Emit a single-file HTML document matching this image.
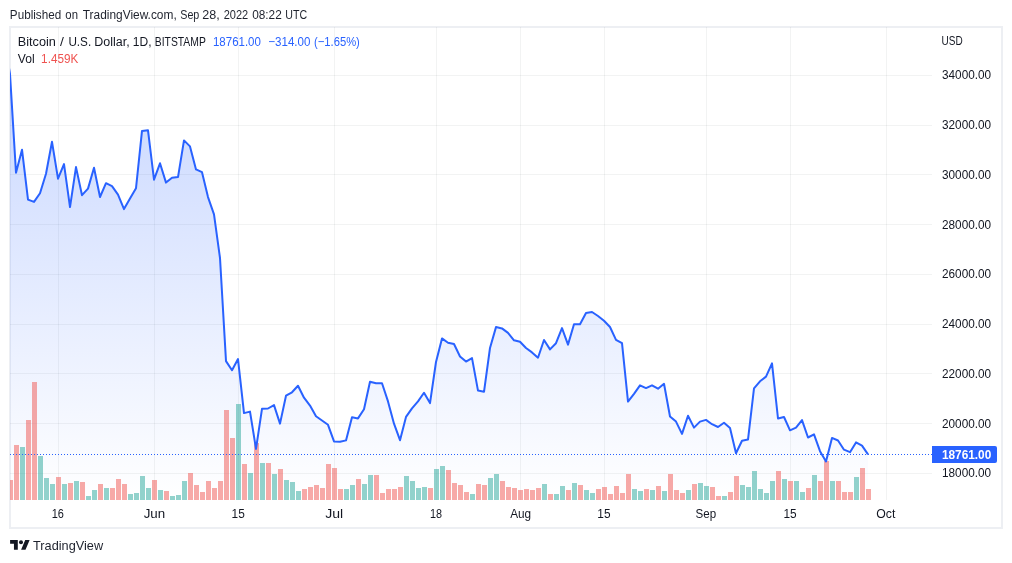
<!DOCTYPE html><html><head><meta charset="utf-8"><title>BTCUSD chart</title><style>html,body{margin:0;padding:0;background:#fff;width:1012px;height:563px;overflow:hidden}svg{will-change:transform}</style></head><body><svg width="1012" height="563" viewBox="0 0 1012 563" style="display:block">
<defs>
<linearGradient id="g" x1="0" y1="28" x2="0" y2="500" gradientUnits="userSpaceOnUse"><stop offset="0" stop-color="#2962ff" stop-opacity="0.28"/><stop offset="1" stop-color="#2962ff" stop-opacity="0.0"/></linearGradient>
<clipPath id="pc"><rect x="10" y="28" width="922" height="472"/></clipPath>
</defs>
<rect width="1012" height="563" fill="#fff"/>
<g font-family='"Liberation Sans", sans-serif'>
<text x="9.87" y="19" font-size="12.5" fill="#1e222d" textLength="51.32" lengthAdjust="spacingAndGlyphs">Published</text>
<text x="65.35" y="19" font-size="12.5" fill="#1e222d" textLength="12.62" lengthAdjust="spacingAndGlyphs">on</text>
<text x="82.76" y="19" font-size="12.5" fill="#1e222d" textLength="93.98" lengthAdjust="spacingAndGlyphs">TradingView.com,</text>
<text x="180.22" y="19" font-size="12.5" fill="#1e222d" textLength="19.11" lengthAdjust="spacingAndGlyphs">Sep</text>
<text x="202.27" y="19" font-size="12.5" fill="#1e222d" textLength="17.46" lengthAdjust="spacingAndGlyphs">28,</text>
<text x="223.65" y="19" font-size="12.5" fill="#1e222d" textLength="24.50" lengthAdjust="spacingAndGlyphs">2022</text>
<text x="252.13" y="19" font-size="12.5" fill="#1e222d" textLength="29.59" lengthAdjust="spacingAndGlyphs">08:22</text>
<text x="285.30" y="19" font-size="12.5" fill="#1e222d" textLength="21.87" lengthAdjust="spacingAndGlyphs">UTC</text>
</g>
<rect x="10" y="27" width="992" height="501" fill="#fff" stroke="#edeff3" stroke-width="2"/>
<path d="M10 75.5H932M10 125.5H932M10 174.5H932M10 224.5H932M10 274.5H932M10 324.5H932M10 373.5H932M10 423.5H932M10 473.5H932M58.5 27V500M154.5 27V500M238.5 27V500M334.5 27V500M436.5 27V500M520.5 27V500M604.5 27V500M706.5 27V500M790.5 27V500M886.5 27V500" stroke="rgba(42,46,57,0.06)" stroke-width="1" fill="none"/>
<g clip-path="url(#pc)">
<path d="M4,500 L4,39 10,74 16,172.7 22,149.7 28,199.6 34,201.9 40,193.2 46,173.7 52,141.8 58,178.7 64,164.1 70,207.1 76,167.1 82,195.2 88,188.6 94,167.7 100,197 106,183.2 112,186.2 118,194.6 124,209.1 130,198.6 136,188.2 142,130.9 148,130.3 154,179.7 160,163.3 166,182.6 172,177.7 178,177.1 184,140.4 190,146.4 196,169.4 202,172.2 208,197.1 214,214.3 220,258 226,361.1 232,370.2 238,359.1 244,413.1 250,411.6 256,448.9 262,408.8 268,408.5 274,405.1 280,423.6 286,395.7 292,392.3 298,385.8 304,397.7 310,405.6 316,416.3 322,420.5 328,424.8 334,441.4 340,441.8 346,440.4 352,417.3 358,418.4 364,409.3 370,381.8 376,383.3 382,383.3 388,401.4 394,423.7 400,440.2 406,416.9 412,408.4 418,401.4 424,392.8 430,403.1 436,362 442,338.4 448,342.7 454,344 460,356.5 466,361.6 472,358.1 478,390.6 484,391.8 490,348 496,327.1 502,328.4 508,332.9 514,340.3 520,341.7 526,348 532,352.4 538,357.7 544,340 550,349.4 556,343.2 562,328.1 568,344.6 574,324.3 580,324.3 586,313 592,312 598,316 604,320.7 610,327 616,339.8 622,343.2 628,401.6 634,393.8 640,385.3 646,388.1 652,385.3 658,388.7 664,383.8 670,416.5 676,421.6 682,433.9 688,415.7 694,427.6 700,421.6 706,419.9 712,424.2 718,427 724,422.8 730,428 736,453.3 742,440.8 748,439.6 754,388.4 760,381.3 766,376.6 772,363.3 778,418.5 784,417 790,430.3 796,427.7 802,420.1 808,437.5 814,434.4 820,451.2 826,461.4 832,437.9 838,440.5 844,449.7 850,452.2 856,442.4 862,445.6 868,454.4 L868,500Z" fill="url(#g)"/>
<rect x="8" y="480" width="5" height="20" fill="rgba(239,83,80,0.5)"/>
<rect x="14" y="445" width="5" height="55" fill="rgba(239,83,80,0.5)"/>
<rect x="20" y="447" width="5" height="53" fill="rgba(38,166,154,0.5)"/>
<rect x="26" y="420" width="5" height="80" fill="rgba(239,83,80,0.5)"/>
<rect x="32" y="382" width="5" height="118" fill="rgba(239,83,80,0.5)"/>
<rect x="38" y="456" width="5" height="44" fill="rgba(38,166,154,0.5)"/>
<rect x="44" y="478" width="5" height="22" fill="rgba(38,166,154,0.5)"/>
<rect x="50" y="484" width="5" height="16" fill="rgba(38,166,154,0.5)"/>
<rect x="56" y="477" width="5" height="23" fill="rgba(239,83,80,0.5)"/>
<rect x="62" y="484" width="5" height="16" fill="rgba(38,166,154,0.5)"/>
<rect x="68" y="483" width="5" height="17" fill="rgba(239,83,80,0.5)"/>
<rect x="74" y="481" width="5" height="19" fill="rgba(38,166,154,0.5)"/>
<rect x="80" y="482" width="5" height="18" fill="rgba(239,83,80,0.5)"/>
<rect x="86" y="496" width="5" height="4" fill="rgba(38,166,154,0.5)"/>
<rect x="92" y="490" width="5" height="10" fill="rgba(38,166,154,0.5)"/>
<rect x="98" y="484" width="5" height="16" fill="rgba(239,83,80,0.5)"/>
<rect x="104" y="488" width="5" height="12" fill="rgba(38,166,154,0.5)"/>
<rect x="110" y="488" width="5" height="12" fill="rgba(239,83,80,0.5)"/>
<rect x="116" y="479" width="5" height="21" fill="rgba(239,83,80,0.5)"/>
<rect x="122" y="484" width="5" height="16" fill="rgba(239,83,80,0.5)"/>
<rect x="128" y="494" width="5" height="6" fill="rgba(38,166,154,0.5)"/>
<rect x="134" y="493" width="5" height="7" fill="rgba(38,166,154,0.5)"/>
<rect x="140" y="476" width="5" height="24" fill="rgba(38,166,154,0.5)"/>
<rect x="146" y="488" width="5" height="12" fill="rgba(38,166,154,0.5)"/>
<rect x="152" y="480" width="5" height="20" fill="rgba(239,83,80,0.5)"/>
<rect x="158" y="490" width="5" height="10" fill="rgba(38,166,154,0.5)"/>
<rect x="164" y="491" width="5" height="9" fill="rgba(239,83,80,0.5)"/>
<rect x="170" y="496" width="5" height="4" fill="rgba(38,166,154,0.5)"/>
<rect x="176" y="495" width="5" height="5" fill="rgba(38,166,154,0.5)"/>
<rect x="182" y="481" width="5" height="19" fill="rgba(38,166,154,0.5)"/>
<rect x="188" y="473" width="5" height="27" fill="rgba(239,83,80,0.5)"/>
<rect x="194" y="485" width="5" height="15" fill="rgba(239,83,80,0.5)"/>
<rect x="200" y="492" width="5" height="8" fill="rgba(239,83,80,0.5)"/>
<rect x="206" y="481" width="5" height="19" fill="rgba(239,83,80,0.5)"/>
<rect x="212" y="488" width="5" height="12" fill="rgba(239,83,80,0.5)"/>
<rect x="218" y="481" width="5" height="19" fill="rgba(239,83,80,0.5)"/>
<rect x="224" y="410" width="5" height="90" fill="rgba(239,83,80,0.5)"/>
<rect x="230" y="438" width="5" height="62" fill="rgba(239,83,80,0.5)"/>
<rect x="236" y="404" width="5" height="96" fill="rgba(38,166,154,0.5)"/>
<rect x="242" y="464" width="5" height="36" fill="rgba(239,83,80,0.5)"/>
<rect x="248" y="473" width="5" height="27" fill="rgba(38,166,154,0.5)"/>
<rect x="254" y="443" width="5" height="57" fill="rgba(239,83,80,0.5)"/>
<rect x="260" y="463" width="5" height="37" fill="rgba(38,166,154,0.5)"/>
<rect x="266" y="463" width="5" height="37" fill="rgba(239,83,80,0.5)"/>
<rect x="272" y="474" width="5" height="26" fill="rgba(38,166,154,0.5)"/>
<rect x="278" y="469" width="5" height="31" fill="rgba(239,83,80,0.5)"/>
<rect x="284" y="480" width="5" height="20" fill="rgba(38,166,154,0.5)"/>
<rect x="290" y="482" width="5" height="18" fill="rgba(38,166,154,0.5)"/>
<rect x="296" y="491" width="5" height="9" fill="rgba(38,166,154,0.5)"/>
<rect x="302" y="489" width="5" height="11" fill="rgba(239,83,80,0.5)"/>
<rect x="308" y="487" width="5" height="13" fill="rgba(239,83,80,0.5)"/>
<rect x="314" y="485" width="5" height="15" fill="rgba(239,83,80,0.5)"/>
<rect x="320" y="488" width="5" height="12" fill="rgba(239,83,80,0.5)"/>
<rect x="326" y="464" width="5" height="36" fill="rgba(239,83,80,0.5)"/>
<rect x="332" y="468" width="5" height="32" fill="rgba(239,83,80,0.5)"/>
<rect x="338" y="489" width="5" height="11" fill="rgba(239,83,80,0.5)"/>
<rect x="344" y="489" width="5" height="11" fill="rgba(38,166,154,0.5)"/>
<rect x="350" y="485" width="5" height="15" fill="rgba(38,166,154,0.5)"/>
<rect x="356" y="479" width="5" height="21" fill="rgba(239,83,80,0.5)"/>
<rect x="362" y="484" width="5" height="16" fill="rgba(38,166,154,0.5)"/>
<rect x="368" y="475" width="5" height="25" fill="rgba(38,166,154,0.5)"/>
<rect x="374" y="475" width="5" height="25" fill="rgba(239,83,80,0.5)"/>
<rect x="380" y="493" width="5" height="7" fill="rgba(239,83,80,0.5)"/>
<rect x="386" y="489" width="5" height="11" fill="rgba(239,83,80,0.5)"/>
<rect x="392" y="489" width="5" height="11" fill="rgba(239,83,80,0.5)"/>
<rect x="398" y="487" width="5" height="13" fill="rgba(239,83,80,0.5)"/>
<rect x="404" y="476" width="5" height="24" fill="rgba(38,166,154,0.5)"/>
<rect x="410" y="481" width="5" height="19" fill="rgba(38,166,154,0.5)"/>
<rect x="416" y="488" width="5" height="12" fill="rgba(38,166,154,0.5)"/>
<rect x="422" y="487" width="5" height="13" fill="rgba(38,166,154,0.5)"/>
<rect x="428" y="488" width="5" height="12" fill="rgba(239,83,80,0.5)"/>
<rect x="434" y="469" width="5" height="31" fill="rgba(38,166,154,0.5)"/>
<rect x="440" y="466" width="5" height="34" fill="rgba(38,166,154,0.5)"/>
<rect x="446" y="470" width="5" height="30" fill="rgba(239,83,80,0.5)"/>
<rect x="452" y="483" width="5" height="17" fill="rgba(239,83,80,0.5)"/>
<rect x="458" y="485" width="5" height="15" fill="rgba(239,83,80,0.5)"/>
<rect x="464" y="492" width="5" height="8" fill="rgba(239,83,80,0.5)"/>
<rect x="470" y="494" width="5" height="6" fill="rgba(38,166,154,0.5)"/>
<rect x="476" y="484" width="5" height="16" fill="rgba(239,83,80,0.5)"/>
<rect x="482" y="485" width="5" height="15" fill="rgba(239,83,80,0.5)"/>
<rect x="488" y="478" width="5" height="22" fill="rgba(38,166,154,0.5)"/>
<rect x="494" y="474" width="5" height="26" fill="rgba(38,166,154,0.5)"/>
<rect x="500" y="481" width="5" height="19" fill="rgba(239,83,80,0.5)"/>
<rect x="506" y="487" width="5" height="13" fill="rgba(239,83,80,0.5)"/>
<rect x="512" y="488" width="5" height="12" fill="rgba(239,83,80,0.5)"/>
<rect x="518" y="490" width="5" height="10" fill="rgba(239,83,80,0.5)"/>
<rect x="524" y="489" width="5" height="11" fill="rgba(239,83,80,0.5)"/>
<rect x="530" y="490" width="5" height="10" fill="rgba(239,83,80,0.5)"/>
<rect x="536" y="488" width="5" height="12" fill="rgba(239,83,80,0.5)"/>
<rect x="542" y="484" width="5" height="16" fill="rgba(38,166,154,0.5)"/>
<rect x="548" y="494" width="5" height="6" fill="rgba(239,83,80,0.5)"/>
<rect x="554" y="494" width="5" height="6" fill="rgba(38,166,154,0.5)"/>
<rect x="560" y="486" width="5" height="14" fill="rgba(38,166,154,0.5)"/>
<rect x="566" y="490" width="5" height="10" fill="rgba(239,83,80,0.5)"/>
<rect x="572" y="483" width="5" height="17" fill="rgba(38,166,154,0.5)"/>
<rect x="578" y="485" width="5" height="15" fill="rgba(239,83,80,0.5)"/>
<rect x="584" y="490" width="5" height="10" fill="rgba(38,166,154,0.5)"/>
<rect x="590" y="493" width="5" height="7" fill="rgba(38,166,154,0.5)"/>
<rect x="596" y="489" width="5" height="11" fill="rgba(239,83,80,0.5)"/>
<rect x="602" y="487" width="5" height="13" fill="rgba(239,83,80,0.5)"/>
<rect x="608" y="494" width="5" height="6" fill="rgba(239,83,80,0.5)"/>
<rect x="614" y="486" width="5" height="14" fill="rgba(239,83,80,0.5)"/>
<rect x="620" y="493" width="5" height="7" fill="rgba(239,83,80,0.5)"/>
<rect x="626" y="474" width="5" height="26" fill="rgba(239,83,80,0.5)"/>
<rect x="632" y="489" width="5" height="11" fill="rgba(38,166,154,0.5)"/>
<rect x="638" y="491" width="5" height="9" fill="rgba(38,166,154,0.5)"/>
<rect x="644" y="489" width="5" height="11" fill="rgba(239,83,80,0.5)"/>
<rect x="650" y="490" width="5" height="10" fill="rgba(38,166,154,0.5)"/>
<rect x="656" y="486" width="5" height="14" fill="rgba(239,83,80,0.5)"/>
<rect x="662" y="491" width="5" height="9" fill="rgba(38,166,154,0.5)"/>
<rect x="668" y="474" width="5" height="26" fill="rgba(239,83,80,0.5)"/>
<rect x="674" y="490" width="5" height="10" fill="rgba(239,83,80,0.5)"/>
<rect x="680" y="493" width="5" height="7" fill="rgba(239,83,80,0.5)"/>
<rect x="686" y="490" width="5" height="10" fill="rgba(38,166,154,0.5)"/>
<rect x="692" y="484" width="5" height="16" fill="rgba(239,83,80,0.5)"/>
<rect x="698" y="483" width="5" height="17" fill="rgba(38,166,154,0.5)"/>
<rect x="704" y="486" width="5" height="14" fill="rgba(38,166,154,0.5)"/>
<rect x="710" y="487" width="5" height="13" fill="rgba(239,83,80,0.5)"/>
<rect x="716" y="496" width="5" height="4" fill="rgba(239,83,80,0.5)"/>
<rect x="722" y="496" width="5" height="4" fill="rgba(38,166,154,0.5)"/>
<rect x="728" y="492" width="5" height="8" fill="rgba(239,83,80,0.5)"/>
<rect x="734" y="476" width="5" height="24" fill="rgba(239,83,80,0.5)"/>
<rect x="740" y="485" width="5" height="15" fill="rgba(38,166,154,0.5)"/>
<rect x="746" y="487" width="5" height="13" fill="rgba(38,166,154,0.5)"/>
<rect x="752" y="471" width="5" height="29" fill="rgba(38,166,154,0.5)"/>
<rect x="758" y="489" width="5" height="11" fill="rgba(38,166,154,0.5)"/>
<rect x="764" y="493" width="5" height="7" fill="rgba(38,166,154,0.5)"/>
<rect x="770" y="481" width="5" height="19" fill="rgba(38,166,154,0.5)"/>
<rect x="776" y="471" width="5" height="29" fill="rgba(239,83,80,0.5)"/>
<rect x="782" y="479" width="5" height="21" fill="rgba(38,166,154,0.5)"/>
<rect x="788" y="481" width="5" height="19" fill="rgba(239,83,80,0.5)"/>
<rect x="794" y="481" width="5" height="19" fill="rgba(38,166,154,0.5)"/>
<rect x="800" y="492" width="5" height="8" fill="rgba(38,166,154,0.5)"/>
<rect x="806" y="488" width="5" height="12" fill="rgba(239,83,80,0.5)"/>
<rect x="812" y="475" width="5" height="25" fill="rgba(38,166,154,0.5)"/>
<rect x="818" y="481" width="5" height="19" fill="rgba(239,83,80,0.5)"/>
<rect x="824" y="461" width="5" height="39" fill="rgba(239,83,80,0.5)"/>
<rect x="830" y="481" width="5" height="19" fill="rgba(38,166,154,0.5)"/>
<rect x="836" y="481" width="5" height="19" fill="rgba(239,83,80,0.5)"/>
<rect x="842" y="492" width="5" height="8" fill="rgba(239,83,80,0.5)"/>
<rect x="848" y="492" width="5" height="8" fill="rgba(239,83,80,0.5)"/>
<rect x="854" y="477" width="5" height="23" fill="rgba(38,166,154,0.5)"/>
<rect x="860" y="468" width="5" height="32" fill="rgba(239,83,80,0.5)"/>
<rect x="866" y="489" width="5" height="11" fill="rgba(239,83,80,0.5)"/>
<path d="M10 454.5H932" stroke="#2962ff" stroke-width="1" stroke-dasharray="1 2" fill="none"/>
<polyline points="4,39 10,74 16,172.7 22,149.7 28,199.6 34,201.9 40,193.2 46,173.7 52,141.8 58,178.7 64,164.1 70,207.1 76,167.1 82,195.2 88,188.6 94,167.7 100,197 106,183.2 112,186.2 118,194.6 124,209.1 130,198.6 136,188.2 142,130.9 148,130.3 154,179.7 160,163.3 166,182.6 172,177.7 178,177.1 184,140.4 190,146.4 196,169.4 202,172.2 208,197.1 214,214.3 220,258 226,361.1 232,370.2 238,359.1 244,413.1 250,411.6 256,448.9 262,408.8 268,408.5 274,405.1 280,423.6 286,395.7 292,392.3 298,385.8 304,397.7 310,405.6 316,416.3 322,420.5 328,424.8 334,441.4 340,441.8 346,440.4 352,417.3 358,418.4 364,409.3 370,381.8 376,383.3 382,383.3 388,401.4 394,423.7 400,440.2 406,416.9 412,408.4 418,401.4 424,392.8 430,403.1 436,362 442,338.4 448,342.7 454,344 460,356.5 466,361.6 472,358.1 478,390.6 484,391.8 490,348 496,327.1 502,328.4 508,332.9 514,340.3 520,341.7 526,348 532,352.4 538,357.7 544,340 550,349.4 556,343.2 562,328.1 568,344.6 574,324.3 580,324.3 586,313 592,312 598,316 604,320.7 610,327 616,339.8 622,343.2 628,401.6 634,393.8 640,385.3 646,388.1 652,385.3 658,388.7 664,383.8 670,416.5 676,421.6 682,433.9 688,415.7 694,427.6 700,421.6 706,419.9 712,424.2 718,427 724,422.8 730,428 736,453.3 742,440.8 748,439.6 754,388.4 760,381.3 766,376.6 772,363.3 778,418.5 784,417 790,430.3 796,427.7 802,420.1 808,437.5 814,434.4 820,451.2 826,461.4 832,437.9 838,440.5 844,449.7 850,452.2 856,442.4 862,445.6 868,454.4" fill="none" stroke="#2962ff" stroke-width="2" stroke-linejoin="round" stroke-linecap="butt"/>
</g>
<g font-family='"Liberation Sans", sans-serif'>
<text x="17.73" y="46" font-size="12.5" fill="#131722" textLength="38.11" lengthAdjust="spacingAndGlyphs">Bitcoin</text>
<text x="60.00" y="46" font-size="12.5" fill="#131722" textLength="3.87" lengthAdjust="spacingAndGlyphs">/</text>
<text x="68.42" y="46" font-size="12.5" fill="#131722" textLength="22.79" lengthAdjust="spacingAndGlyphs">U.S.</text>
<text x="94.30" y="46" font-size="12.5" fill="#131722" textLength="35.42" lengthAdjust="spacingAndGlyphs">Dollar,</text>
<text x="132.80" y="46" font-size="12.5" fill="#131722" textLength="18.74" lengthAdjust="spacingAndGlyphs">1D,</text>
<text x="154.77" y="46" font-size="12.5" fill="#131722" textLength="51.06" lengthAdjust="spacingAndGlyphs">BITSTAMP</text>
<text x="212.94" y="46" font-size="12.5" fill="#2962ff" textLength="47.98" lengthAdjust="spacingAndGlyphs">18761.00</text>
<text x="268.32" y="46" font-size="12.5" fill="#2962ff" textLength="42.11" lengthAdjust="spacingAndGlyphs">−314.00</text>
<text x="314.03" y="46" font-size="12.5" fill="#2962ff" textLength="45.85" lengthAdjust="spacingAndGlyphs">(−1.65%)</text>
<text x="17.74" y="63" font-size="12.5" fill="#131722" textLength="16.85" lengthAdjust="spacingAndGlyphs">Vol</text>
<text x="41.12" y="63" font-size="12.5" fill="#ef5350" textLength="37.19" lengthAdjust="spacingAndGlyphs">1.459K</text>
</g>
<g font-family='"Liberation Sans", sans-serif' font-size="12.5" fill="#131722">
<text x="941.55" y="45" textLength="21.11" lengthAdjust="spacingAndGlyphs">USD</text>
<text x="942.03" y="79" textLength="49.09" lengthAdjust="spacingAndGlyphs">34000.00</text>
<text x="942.03" y="129" textLength="49.09" lengthAdjust="spacingAndGlyphs">32000.00</text>
<text x="942.03" y="179" textLength="49.09" lengthAdjust="spacingAndGlyphs">30000.00</text>
<text x="942.03" y="229" textLength="49.09" lengthAdjust="spacingAndGlyphs">28000.00</text>
<text x="942.03" y="278" textLength="49.09" lengthAdjust="spacingAndGlyphs">26000.00</text>
<text x="942.03" y="328" textLength="49.09" lengthAdjust="spacingAndGlyphs">24000.00</text>
<text x="942.03" y="378" textLength="49.09" lengthAdjust="spacingAndGlyphs">22000.00</text>
<text x="942.03" y="428" textLength="49.09" lengthAdjust="spacingAndGlyphs">20000.00</text>
<text x="942.03" y="477" textLength="49.09" lengthAdjust="spacingAndGlyphs">18000.00</text>
</g>
<path d="M932 446H995a2 2 0 0 1 2 2V461a2 2 0 0 1 -2 2H932Z" fill="#2962ff"/>
<text x="941.89" y="459" font-family='"Liberation Sans", sans-serif' font-size="12.5" font-weight="bold" fill="#fff" textLength="49.4" lengthAdjust="spacingAndGlyphs">18761.00</text>
<g font-family='"Liberation Sans", sans-serif' font-size="12.5" fill="#131722">
<text x="51.78" y="518" textLength="12.19" lengthAdjust="spacingAndGlyphs">16</text>
<text x="143.70" y="518" textLength="21.5" lengthAdjust="spacingAndGlyphs">Jun</text>
<text x="231.56" y="518" textLength="13.19" lengthAdjust="spacingAndGlyphs">15</text>
<text x="325.19" y="518" textLength="17.97" lengthAdjust="spacingAndGlyphs">Jul</text>
<text x="430.09" y="518" textLength="12.07" lengthAdjust="spacingAndGlyphs">18</text>
<text x="510.20" y="518" textLength="20.96" lengthAdjust="spacingAndGlyphs">Aug</text>
<text x="597.31" y="518" textLength="13.19" lengthAdjust="spacingAndGlyphs">15</text>
<text x="695.58" y="518" textLength="20.58" lengthAdjust="spacingAndGlyphs">Sep</text>
<text x="783.51" y="518" textLength="13.19" lengthAdjust="spacingAndGlyphs">15</text>
<text x="876.20" y="518" textLength="19.12" lengthAdjust="spacingAndGlyphs">Oct</text>
</g>
<g transform="translate(10.1,537.97) scale(0.55,0.533)" fill="#131722"><path d="M14 22H7V11H0V4h14v18zM28 22h-8l7.5-18h8L28 22z"/></g><circle cx="21" cy="542.35" r="2" fill="#131722"/>
<text x="33.05" y="550" font-family='"Liberation Sans", sans-serif' font-size="13" fill="#1e222d" textLength="70.03" lengthAdjust="spacingAndGlyphs">TradingView</text>
</svg></body></html>
